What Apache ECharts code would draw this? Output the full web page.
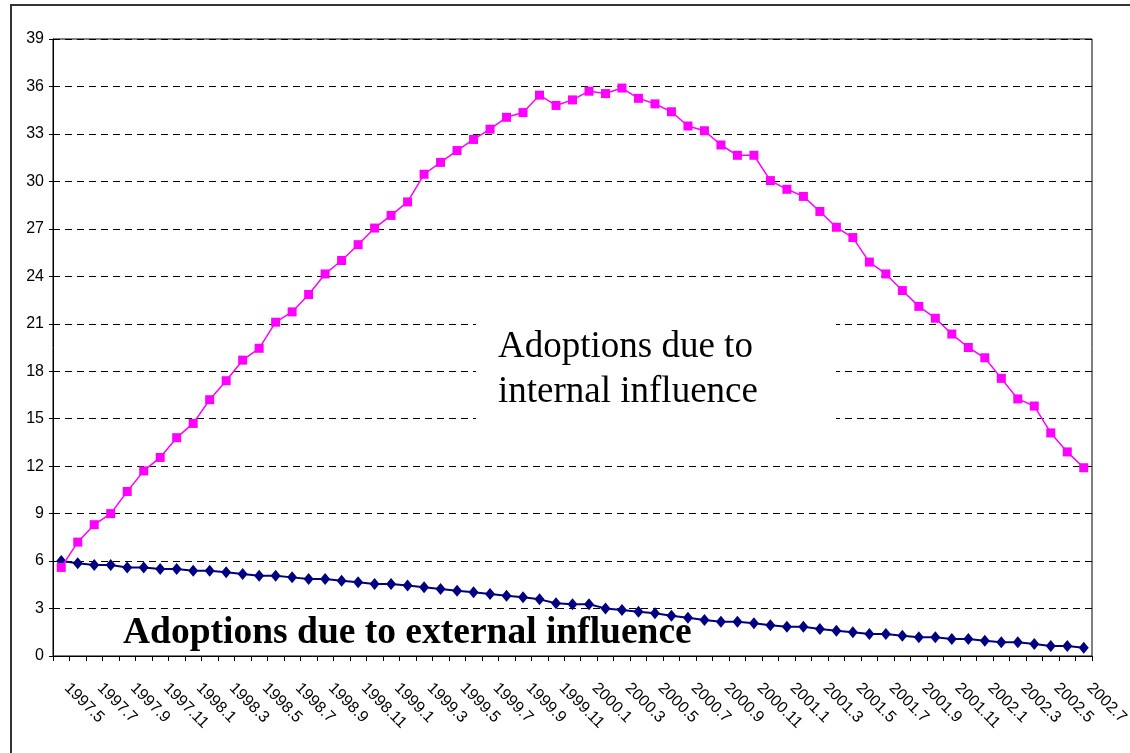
<!DOCTYPE html>
<html>
<head>
<meta charset="utf-8">
<title>Adoptions due to internal and external influence</title>
<script src="https://cdn.jsdelivr.net/npm/echarts@6/dist/echarts.min.js"></script>
<style>
  html, body { margin: 0; padding: 0; background: #ffffff; }
  #chart { width: 1130px; height: 753px; }
</style>
</head>
<body>
<div id="chart"></div>
<script>
// Monthly periods, 1997.5 through 2002.7
const months = [
  '1997.5','1997.6','1997.7','1997.8','1997.9','1997.10','1997.11','1997.12',
  '1998.1','1998.2','1998.3','1998.4','1998.5','1998.6','1998.7','1998.8','1998.9','1998.10','1998.11','1998.12',
  '1999.1','1999.2','1999.3','1999.4','1999.5','1999.6','1999.7','1999.8','1999.9','1999.10','1999.11','1999.12',
  '2000.1','2000.2','2000.3','2000.4','2000.5','2000.6','2000.7','2000.8','2000.9','2000.10','2000.11','2000.12',
  '2001.1','2001.2','2001.3','2001.4','2001.5','2001.6','2001.7','2001.8','2001.9','2001.10','2001.11','2001.12',
  '2002.1','2002.2','2002.3','2002.4','2002.5','2002.6','2002.7'
];

// Adoptions due to internal influence (imitation)
const internalAdoptions = [
  5.6, 7.2, 8.3, 9.0, 10.4, 11.7, 12.55, 13.8, 14.7, 16.2,
  17.4, 18.7, 19.45, 21.1, 21.75, 22.85, 24.15, 25.0, 26.0, 27.05,
  27.85, 28.7, 30.45, 31.2, 31.95, 32.65, 33.3, 34.05, 34.35, 35.45,
  34.8, 35.15, 35.7, 35.55, 35.9, 35.25, 34.9, 34.4, 33.5, 33.2,
  32.3, 31.65, 31.65, 30.05, 29.5, 29.05, 28.1, 27.1, 26.45, 24.9,
  24.15, 23.1, 22.1, 21.35, 20.35, 19.5, 18.85, 17.55, 16.25, 15.8,
  14.1, 12.9, 11.9
];

// Adoptions due to external influence (innovation)
const externalAdoptions = [
  6.0, 5.86, 5.75, 5.75, 5.6, 5.6, 5.5, 5.5, 5.39, 5.39,
  5.29, 5.18, 5.08, 5.08, 4.97, 4.87, 4.87, 4.76, 4.66, 4.55,
  4.55, 4.45, 4.34, 4.24, 4.13, 4.03, 3.92, 3.81, 3.71, 3.58,
  3.33, 3.27, 3.27, 3.01, 2.91, 2.8, 2.7, 2.55, 2.42, 2.28,
  2.17, 2.17, 2.07, 1.94, 1.85, 1.85, 1.71, 1.6, 1.5, 1.39,
  1.39, 1.28, 1.18, 1.18, 1.07, 1.07, 0.97, 0.87, 0.87, 0.76,
  0.63, 0.63, 0.52
];

const internalLabel = ['Adoptions due to', 'internal influence'];
const externalLabel = 'Adoptions due to external influence';

const chart = echarts.init(document.getElementById('chart'), null, { renderer: 'canvas' });

chart.setOption({
  animation: false,
  backgroundColor: '#ffffff',
  grid: {
    left: 53, right: 38, top: 39, bottom: 97,
    outerBoundsMode: 'none',
    containLabel: false,
    show: true, borderColor: '#000000', borderWidth: 1, backgroundColor: 'transparent'
  },
  xAxis: {
    type: 'category',
    data: months,
    boundaryGap: true,
    axisLine: { lineStyle: { color: '#000000', width: 1 } },
    axisTick: { show: true, interval: 0, length: 5, inside: false, lineStyle: { color: '#000000' } },
    axisLabel: {
      interval: 1,
      rotate: -45,
      margin: 24,
      padding: [0, 0, 0, 8],
      hideOverlap: false,
      color: '#000000',
      fontFamily: 'Liberation Sans, Arial, sans-serif',
      fontSize: 16
    },
    splitLine: { show: false }
  },
  yAxis: {
    type: 'value',
    min: 0, max: 39, interval: 3,
    axisLine: { show: true, lineStyle: { color: '#000000', width: 1 } },
    axisTick: { show: true, length: 4, lineStyle: { color: '#000000' } },
    axisLabel: {
      margin: 9,
      color: '#000000',
      fontFamily: 'Liberation Sans, Arial, sans-serif',
      fontSize: 16
    },
    splitLine: { show: true, lineStyle: { color: '#000000', width: 1, type: [7, 5] } }
  },
  series: [
    {
      name: externalLabel,
      type: 'line',
      data: externalAdoptions,
      symbol: 'diamond',
      symbolSize: [10, 12],
      showAllSymbol: true,
      lineStyle: { color: '#000080', width: 2 },
      itemStyle: { color: '#000080' },
      z: 3
    },
    {
      name: internalLabel.join(' '),
      type: 'line',
      data: internalAdoptions,
      symbol: 'rect',
      symbolSize: 9,
      showAllSymbol: true,
      lineStyle: { color: '#FF00FF', width: 1.5 },
      itemStyle: { color: '#FF00FF' },
      z: 4
    }
  ],
  graphic: [
    // outer chart frame
    {
      type: 'rect', z: 0, silent: true,
      shape: { x: 11, y: 5, width: 1140, height: 770 },
      style: { fill: 'none', stroke: '#333333', lineWidth: 2 }
    },
    // text box for the internal-influence annotation
    {
      type: 'rect', z: 1, silent: true,
      shape: { x: 476, y: 288, width: 360, height: 150 },
      style: { fill: '#ffffff' }
    },
    {
      type: 'text', z: 5, silent: true,
      left: 498, top: 325,
      style: {
        text: internalLabel.join('\n'),
        font: '37px "Liberation Serif", "Times New Roman", serif',
        lineHeight: 45,
        fill: '#000000'
      }
    },
    {
      type: 'text', z: 5, silent: true,
      left: 123, top: 614,
      style: {
        text: externalLabel,
        font: 'bold 37.5px "Liberation Serif", "Times New Roman", serif',
        fill: '#000000'
      }
    }
  ]
});
</script>
</body>
</html>
